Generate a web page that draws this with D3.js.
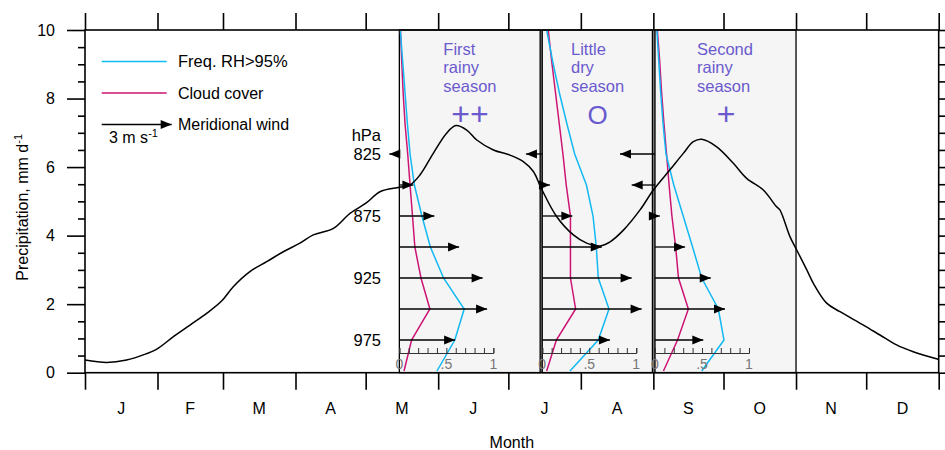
<!DOCTYPE html>
<html>
<head>
<meta charset="utf-8">
<script src="https://cdn.jsdelivr.net/npm/d3@7"></script>
<style>
  body { margin: 0; background: #fff; }
  svg text { font-family: "Liberation Sans", Arial, Helvetica, sans-serif; }
</style>
</head>
<body>
<svg id="chart" width="945" height="450"></svg>
<script>
// ---------------- DATA ----------------
const monthLabels = ["J","F","M","A","M","J","J","A","S","O","N","D"];
const monthStarts = [0,31,59,90,120,151,181,212,243,273,304,334,365];
const yTicks = [0,2,4,6,8,10];

// Precipitation climatology (day of year, mm/d)
const precipDay = [0,9.3,17.8,24.9,30.7,37.8,44.9,52.0,58.4,63.4,70.5,77.7,84.8,91.9,97.6,106.2,113.3,120.4,126.1,134.4,139.0,143.2,148.9,154.6,158.6,163.2,167.5,174.6,181.7,187.4,191.7,195.0,201.7,208.8,214.5,220.2,224.5,230.2,237.3,243.0,250.1,255.8,260.1,263.7,270.1,277.2,282.9,290.0,295.7,297.1,301.4,304.3,308.6,311.4,317.1,322.8,332.8,339.9,347.0,354.1,364.8];
const precipVal = [0.37,0.30,0.37,0.52,0.69,1.05,1.39,1.73,2.09,2.51,2.95,3.24,3.53,3.78,4.02,4.21,4.65,4.96,5.28,5.41,5.48,5.77,6.40,6.99,7.21,7.08,6.79,6.50,6.35,6.16,5.87,5.39,4.55,4.02,3.78,3.70,3.82,4.16,4.75,5.33,5.92,6.40,6.74,6.81,6.59,6.11,5.67,5.33,4.84,4.75,3.97,3.58,3.00,2.61,2.03,1.78,1.39,1.10,0.81,0.61,0.39];

// Season panels (day of year extents)
const panelStart = [134.4, 195.5, 243.7];
const panelEnd   = [194.6, 242.6, 304.0];
const seasonText = [["First","rainy","season"],["Little","dry","season"],["Second","rainy","season"]];
const seasonSymbol = ["++","O","+"];

// Vertical profiles (hPa)
const levels = [1000,975,950,925,900,875,850,825,800,775,750,725];
const rhFirst    = [0.40,0.59,0.69,0.47,0.33,0.24,0.16,0.114,0.085,0.06,0.035,0.01];
const cloudFirst = [0.05,0.13,0.325,0.23,0.165,0.14,0.114,0.089,0.06,0.04,0.025,0.012];
const rhDry      = [0.295,0.596,0.71,0.596,0.575,0.54,0.47,0.345,0.26,0.18,0.11,0.047];
const cloudDry   = [0.047,0.15,0.355,0.30,0.30,0.30,0.255,0.22,0.18,0.14,0.10,0.064];
const rhSecond   = [0.497,0.734,0.674,0.497,0.40,0.30,0.20,0.117,0.085,0.06,0.04,0.02];
const cloudSecond= [0.09,0.24,0.355,0.25,0.22,0.18,0.15,0.123,0.095,0.07,0.05,0.025];

// Meridional wind (m/s)
const windLevels = [975,950,925,900,875,850,825];
const windFirst  = [2.39,3.76,3.57,2.56,1.50,0.60,-0.43];
const windDry    = [2.90,4.26,3.83,2.55,1.29,0.33,-0.70];
const windSecond = [2.07,3.00,2.39,1.29,0.21,-1.00,-1.50];
const pressureLabels = ["825","875","925","975"];
const refWind = 3;

// ---------------- LAYOUT ----------------
const L = 85, R = 938.7, T = 30, B = 372.7;
const svg = d3.select("#chart");
const x = d3.scaleLinear().domain([0,365]).range([L,R]);
const y = d3.scaleLinear().domain([0,10]).range([B,T]);
const yp = d3.scaleLinear().domain([1000,725]).range([371,30]);
const FRAC_PX = 94;            // px per unit fraction
const WIND_PX = 70/3;          // px per m/s
const cyan = "#12b8f2", magenta = "#cc1474", purple = "#6a5acd";

svg.append("rect").attr("width",945).attr("height",450).attr("fill","#fff");

const profiles = [[rhFirst,cloudFirst],[rhDry,cloudDry],[rhSecond,cloudSecond]];
const winds = [windFirst, windDry, windSecond];

// gaps between adjacent panels
for (let i=0;i<2;i++){
  svg.append("rect").attr("x",x(panelEnd[i])).attr("y",T)
     .attr("width",x(panelStart[i+1])-x(panelEnd[i])).attr("height",B-T)
     .attr("fill","#808080");
}

const defs = svg.append("defs");
panelStart.forEach((s,i)=>{
  const x0 = x(s), x1 = x(panelEnd[i]);
  defs.append("clipPath").attr("id","clip"+i).append("rect")
      .attr("x",x0).attr("y",T).attr("width",x1-x0).attr("height",B-T);
  svg.append("rect").attr("x",x0).attr("y",T).attr("width",x1-x0).attr("height",B-T)
     .attr("fill","#f5f5f5").attr("stroke","#000").attr("stroke-width",1.3);
});

// profiles
panelStart.forEach((s,i)=>{
  const x0 = x(s);
  const fx = d3.scaleLinear().domain([0,1]).range([x0, x0+FRAC_PX]);
  const g = svg.append("g").attr("clip-path","url(#clip"+i+")");
  const line = arr => d3.line().x((d,k)=>fx(arr[k])).y((d,k)=>yp(levels[k]))(levels);
  g.append("path").attr("d",line(profiles[i][1])).attr("fill","none").attr("stroke",magenta).attr("stroke-width",1.5);
  g.append("path").attr("d",line(profiles[i][0])).attr("fill","none").attr("stroke",cyan).attr("stroke-width",1.5);

  // small 0..1 axis
  const ay = 353;
  const ax = svg.append("g").attr("transform",`translate(0,${ay})`);
  ax.call(d3.axisTop(fx).tickValues(d3.range(0,1.001,0.1)).tickSize(5).tickFormat(""));
  ax.selectAll("path").attr("stroke","#333").attr("stroke-width",1);
  ax.selectAll("line").attr("stroke","#333").attr("stroke-width",1);
  [[0,"0"],[0.5,".5"],[1,"1"]].forEach(([v,t])=>{
    svg.append("text").attr("x",fx(v)).attr("y",364).attr("dy","0.35em")
       .attr("text-anchor","middle").attr("font-size",14).attr("fill","#777").text(t);
  });
});

// arrows
function arrow(g, x0, x1, yy){
  const dir = x1 >= x0 ? 1 : -1;
  const hl = 11, hw = 4.5;
  g.append("line").attr("x1",x0).attr("x2",x1).attr("y1",yy).attr("y2",yy)
   .attr("stroke","#000").attr("stroke-width",1.3);
  g.append("path").attr("d",`M${x1},${yy} L${x1-dir*hl},${yy-hw} L${x1-dir*hl},${yy+hw} Z`).attr("fill","#000");
}
const ag = svg.append("g");
panelStart.forEach((s,i)=>{
  const x0 = x(s);
  const wx = d3.scaleLinear().domain([0,1]).range([x0, x0+WIND_PX]);
  windLevels.forEach((p,k)=> arrow(ag, x0, wx(winds[i][k]), yp(p)));
});

// precipitation curve
svg.append("path")
  .attr("d", d3.line().x((d,k)=>x(precipDay[k])).y((d,k)=>y(precipVal[k])).curve(d3.curveCatmullRom.alpha(0.5))(precipDay))
  .attr("fill","none").attr("stroke","#000").attr("stroke-width",1.5);

// frame
svg.append("rect").attr("x",L).attr("y",T).attr("width",R-L).attr("height",B-T)
   .attr("fill","none").attr("stroke","#000").attr("stroke-width",1.6);

// axes
function styleAxis(g){ g.select(".domain").remove(); g.selectAll("line").attr("stroke","#000").attr("stroke-width",1.6); }
svg.append("g").attr("transform",`translate(0,${B})`)
   .call(d3.axisBottom(x).tickValues(monthStarts).tickSize(17).tickFormat("")).call(styleAxis);
svg.append("g").attr("transform",`translate(0,${T})`)
   .call(d3.axisTop(x).tickValues(monthStarts).tickSize(17).tickFormat("")).call(styleAxis);
const minor = d3.range(0,10.01,0.5).filter(v=>v%2!==0);
const la = svg.append("g").attr("transform",`translate(${L},0)`)
   .call(d3.axisLeft(y).tickValues(yTicks).tickSize(18).tickPadding(12).tickFormat(d3.format("d"))).call(styleAxis);
la.selectAll("text").attr("font-size",16).attr("fill","#000").attr("font-family","Liberation Sans, Arial, sans-serif");
svg.append("g").attr("transform",`translate(${L},0)`)
   .call(d3.axisLeft(y).tickValues(minor).tickSize(7).tickFormat("")).call(styleAxis);
svg.append("g").attr("transform",`translate(${R},0)`)
   .call(d3.axisRight(y).tickValues(yTicks).tickSize(18).tickFormat("")).call(styleAxis);
svg.append("g").attr("transform",`translate(${R},0)`)
   .call(d3.axisRight(y).tickValues(minor).tickSize(7).tickFormat("")).call(styleAxis);

// month labels
monthLabels.forEach((m,i)=>{
  svg.append("text").attr("x",x((monthStarts[i]+monthStarts[i+1])/2)).attr("y",408).attr("dy","0.35em")
     .attr("text-anchor","middle").attr("font-size",16).text(m);
});
svg.append("text").attr("x",(L+R)/2).attr("y",442).attr("dy","0.35em")
   .attr("text-anchor","middle").attr("font-size",16).text("Month");
const yt = svg.append("text").attr("transform",`translate(22,${(T+B)/2 + 6}) rotate(-90)`)
   .attr("text-anchor","middle").attr("dy","0.35em").attr("font-size",16);
yt.append("tspan").text("Precipitation, mm d");
yt.append("tspan").attr("font-size",11).attr("dy",-6).text("-1");

// pressure labels
svg.append("text").attr("x",381).attr("y",135).attr("dy","0.35em").attr("text-anchor","end").attr("font-size",16.5).text("hPa");
pressureLabels.forEach(p=>{
  svg.append("text").attr("x",381).attr("y",yp(+p)).attr("dy","0.35em").attr("text-anchor","end").attr("font-size",16.5).text(p);
});

// season labels
const symX = [470, 597.5, 726];
panelStart.forEach((s,i)=>{
  const tx = x(s) + [44,28.7,42][i];
  seasonText[i].forEach((t,k)=>{
    svg.append("text").attr("x",tx).attr("y",49+k*18.7).attr("dy","0.35em")
       .attr("font-size",16.5).attr("fill",purple).text(t);
  });
  const sym = svg.append("text").attr("x",symX[i]).attr("y",115)
       .attr("text-anchor","middle").attr("fill",purple).text(seasonSymbol[i]);
  if (seasonSymbol[i]==="O") sym.attr("font-size",26).attr("dy","0.36em");
  else sym.attr("font-size",32).attr("font-family","DejaVu Sans, sans-serif").attr("dy","0.32em");
});

// legend
svg.append("line").attr("x1",101.7).attr("x2",166.7).attr("y1",61.5).attr("y2",61.5).attr("stroke",cyan).attr("stroke-width",1.5);
svg.append("text").attr("x",178).attr("y",61.5).attr("dy","0.35em").attr("font-size",16.5).text("Freq. RH>95%");
svg.append("line").attr("x1",101.7).attr("x2",166.7).attr("y1",93).attr("y2",93).attr("stroke",magenta).attr("stroke-width",1.5);
svg.append("text").attr("x",178).attr("y",93).attr("dy","0.35em").attr("font-size",16).text("Cloud cover");
arrow(svg, 101.7, 101.7 + refWind*WIND_PX, 124.5);
svg.append("text").attr("x",178).attr("y",124.5).attr("dy","0.35em").attr("font-size",16).text("Meridional wind");
const rl = svg.append("text").attr("x",109).attr("y",137).attr("dy","0.35em").attr("font-size",16);
rl.append("tspan").text("3 m s");
rl.append("tspan").attr("font-size",11).attr("dy",-6).text("-1");
</script>
</body>
</html>
